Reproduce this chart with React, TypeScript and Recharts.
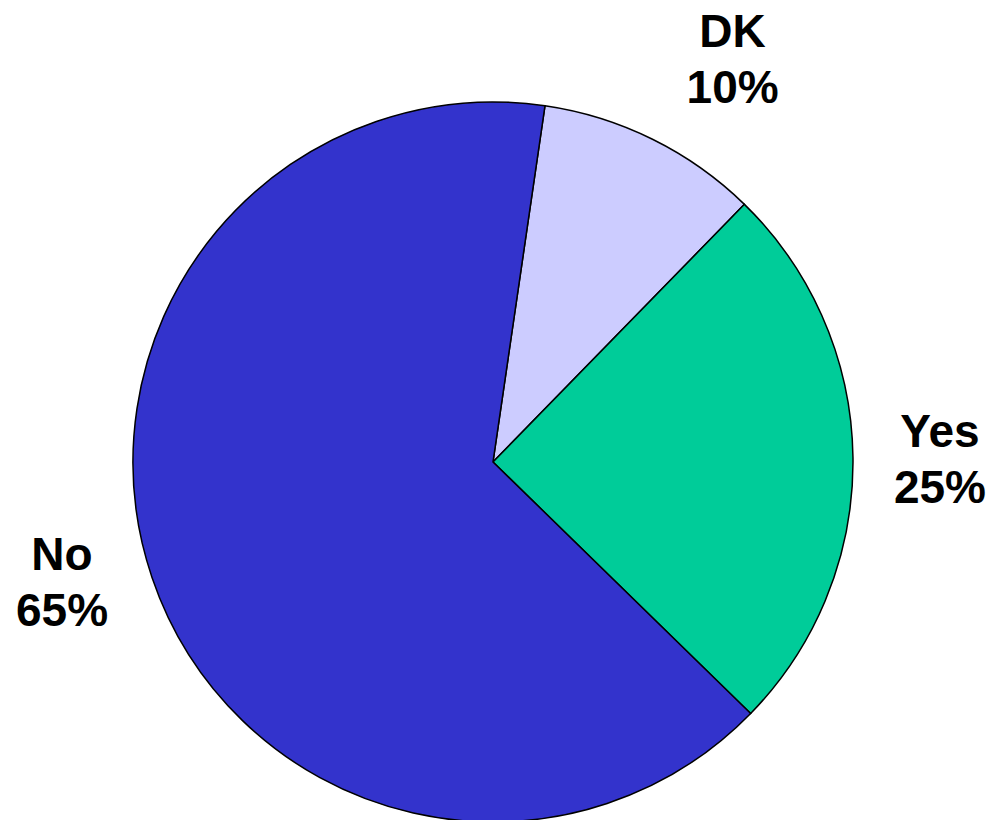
import React from 'react';
import { PieChart, Pie, Cell } from 'recharts';

const names = ['DK', 'Yes', 'No'];
const values = [10, 25, 65];
const colors = ['#CCCCFF', '#00CC99', '#3333CC'];

// small hand tweaks so labels sit where the original put them
const labelNudge: Record<string, [number, number]> = {
  DK: [38, 21],
  Yes: [-8, 19],
  No: [0, -10],
};

const data = names.map((name, i) => ({ name, value: values[i] }));

const RADIAN = Math.PI / 180;

const renderLabel = ({ cx, cy, midAngle, outerRadius, name, percent }: any) => {
  const r = outerRadius + 95;
  const [dx, dy] = labelNudge[name] || [0, 0];
  const x = cx + r * Math.cos(-midAngle * RADIAN) + dx;
  const y = cy + r * Math.sin(-midAngle * RADIAN) + dy;
  return (
    <text
      x={x}
      y={y}
      textAnchor="middle"
      fill="#000"
      fontFamily="'Liberation Sans', Arial, sans-serif"
      fontWeight="bold"
      fontSize={46}
    >
      <tspan x={x} y={y - 28}>{name}</tspan>
      <tspan x={x} y={y + 28}>{`${Math.round(percent * 100)}%`}</tspan>
    </text>
  );
};

const App: React.FC = () => {
  return (
    <div style={{ position: 'absolute', left: 0, top: 0, width: 994, height: 820, background: '#fff' }}>
      <PieChart width={994} height={820} margin={{ top: 0, right: 0, bottom: 0, left: 0 }}>
        <Pie
          data={data}
          dataKey="value"
          nameKey="name"
          cx={493}
          cy={462}
          outerRadius={360}
          startAngle={81.7}
          endAngle={-278.3}
          stroke="#000"
          strokeWidth={1.5}
          labelLine={false}
          label={renderLabel}
          isAnimationActive={false}
        >
          {data.map((entry, index) => (
            <Cell key={`cell-${index}`} fill={colors[index]} />
          ))}
        </Pie>
      </PieChart>
    </div>
  );
};

export default App;
